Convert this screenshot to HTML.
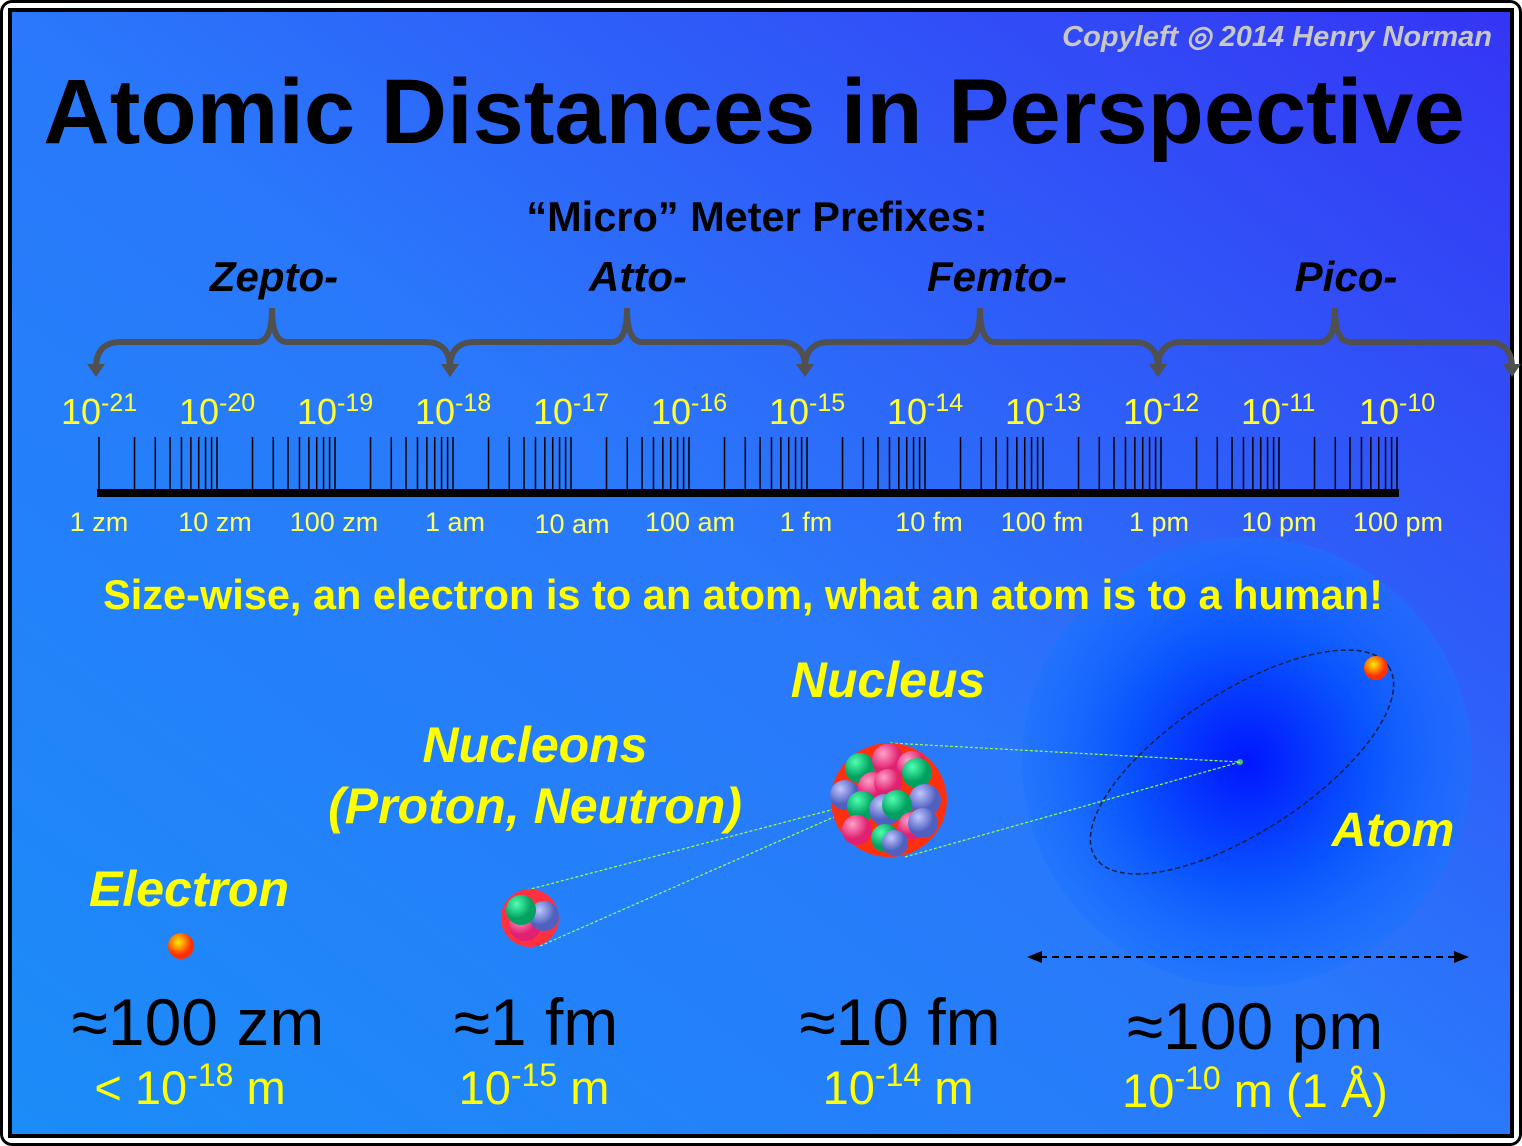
<!DOCTYPE html>
<html><head><meta charset="utf-8"><style>
html,body{margin:0;padding:0;width:1522px;height:1146px;overflow:hidden;background:#fff}
svg{display:block}
text{font-family:"Liberation Sans",sans-serif}
</style></head><body>
<svg width="1522" height="1146" viewBox="0 0 1522 1146" xmlns="http://www.w3.org/2000/svg">
<defs>
<linearGradient id="bg" x1="0" y1="1" x2="1" y2="0">
<stop offset="0" stop-color="#1b8cf8"/><stop offset="0.5" stop-color="#2a78fb"/><stop offset="1" stop-color="#3535f5"/>
</linearGradient>
<radialGradient id="atom"><stop offset="0" stop-color="#0016ff"/><stop offset="0.55" stop-color="#0a55ff"/><stop offset="1" stop-color="#1a72ff" stop-opacity="0.5"/></radialGradient>
<radialGradient id="el" cx="0.4" cy="0.35"><stop offset="0" stop-color="#ffee00"/><stop offset="1" stop-color="#ff3000"/></radialGradient>
<radialGradient id="gr" cx="0.35" cy="0.3"><stop offset="0" stop-color="#50ffb0"/><stop offset="1" stop-color="#00a060"/></radialGradient>
<radialGradient id="pk" cx="0.35" cy="0.3"><stop offset="0" stop-color="#ffa0c8"/><stop offset="1" stop-color="#e02070"/></radialGradient>
<radialGradient id="bl" cx="0.35" cy="0.3"><stop offset="0" stop-color="#c0c8ff"/><stop offset="1" stop-color="#5060c0"/></radialGradient>
</defs>
<rect x="0" y="0" width="1522" height="1146" rx="12" fill="#000"/>
<rect x="3" y="3" width="1516" height="1140" rx="9" fill="#fff"/>
<rect x="8" y="8" width="1506" height="1130" fill="#000"/>
<rect x="12" y="12" width="1498" height="1122" fill="url(#bg)"/>

<text x="1492" y="46" text-anchor="end" font-size="29" font-weight="bold" font-style="italic" fill="#c8c8c8">Copyleft ◎ 2014 Henry Norman</text>
<text x="754" y="143" text-anchor="middle" font-size="92" font-weight="bold" fill="#000">Atomic Distances in Perspective</text>
<text x="757" y="231" text-anchor="middle" font-size="41.5" font-weight="bold" fill="#000">“Micro” Meter Prefixes:</text>
<g font-size="42" font-weight="bold" font-style="italic" fill="#000" text-anchor="middle">
<text x="274" y="291">Zepto-</text><text x="638" y="291">Atto-</text><text x="997" y="291">Femto-</text><text x="1346" y="291">Pico-</text>
</g>
<g fill="none" stroke="#505050" stroke-width="6" id="braces"></g>
<g id="ticks" stroke="#000" stroke-width="1.5"></g>
<rect x="97" y="489" width="1302" height="8" fill="#000"/>
<g font-size="36" fill="#ffff33" id="dec"></g>
<g font-size="27" fill="#ffff66" text-anchor="middle">
<text x="99" y="531">1 zm</text><text x="215" y="531">10 zm</text><text x="334" y="531">100 zm</text><text x="455" y="531">1 am</text><text x="572" y="533">10 am</text><text x="690" y="531">100 am</text><text x="806" y="531">1 fm</text><text x="929" y="531">10 fm</text><text x="1042" y="531">100 fm</text><text x="1159" y="531">1 pm</text><text x="1279" y="531">10 pm</text><text x="1398" y="531">100 pm</text>
</g>

<circle cx="1247" cy="762" r="225" fill="url(#atom)"/>
<text x="743" y="609" text-anchor="middle" font-size="41.5" font-weight="bold" fill="#ffff00">Size-wise, an electron is to an atom, what an atom is to a human!</text>
<ellipse cx="1242" cy="762" rx="175" ry="70" transform="rotate(-33 1242 762)" fill="none" stroke="#102040" stroke-width="1.5" stroke-dasharray="5 3"/>
<circle cx="1376" cy="668" r="12" fill="url(#el)"/>
<circle cx="1240" cy="762" r="3" fill="#40c080"/>
<g stroke="#a0ff40" stroke-width="1.2" stroke-dasharray="3 2" fill="none">
<line x1="890" y1="743" x2="1240" y2="762"/><line x1="905" y1="857" x2="1240" y2="762"/>
<line x1="527" y1="890" x2="850" y2="805"/><line x1="540" y1="946" x2="850" y2="810"/>
</g>
<ellipse cx="889" cy="800" rx="58" ry="57" fill="#ff3010"/>
<g>
<circle cx="860" cy="768" r="15" fill="url(#gr)"/><circle cx="888" cy="760" r="16" fill="url(#pk)"/><circle cx="912" cy="766" r="15" fill="url(#pk)"/>
<circle cx="845" cy="795" r="15" fill="url(#bl)"/><circle cx="873" cy="787" r="15" fill="url(#pk)"/><circle cx="917" cy="773" r="15" fill="url(#gr)"/>
<circle cx="925" cy="800" r="16" fill="url(#bl)"/><circle cx="862" cy="806" r="15" fill="url(#gr)"/><circle cx="888" cy="783" r="14" fill="url(#pk)"/>
<circle cx="885" cy="810" r="16" fill="url(#bl)"/><circle cx="897" cy="805" r="15" fill="url(#gr)"/><circle cx="857" cy="830" r="15" fill="url(#pk)"/>
<circle cx="912" cy="826" r="14" fill="url(#pk)"/><circle cx="923" cy="823" r="15" fill="url(#bl)"/><circle cx="885" cy="838" r="14" fill="url(#gr)"/><circle cx="895" cy="843" r="13" fill="url(#bl)"/>
</g>
<circle cx="530" cy="918" r="29" fill="#ff3040"/>
<circle cx="525" cy="925" r="16" fill="url(#pk)"/><circle cx="544" cy="916" r="15" fill="url(#bl)"/><circle cx="521" cy="910" r="15" fill="url(#gr)"/>
<circle cx="181" cy="946" r="13" fill="url(#el)"/>

<g font-size="50" font-weight="bold" font-style="italic" fill="#ffff00" text-anchor="middle">
<text x="888" y="697">Nucleus</text><text x="535" y="762">Nucleons</text><text x="535" y="823">(Proton, Neutron)</text>
<text x="189" y="906">Electron</text><text x="1393" y="846" font-size="48">Atom</text>
</g>
<line x1="1040" y1="957" x2="1455" y2="957" stroke="#000" stroke-width="2" stroke-dasharray="7 5"/>
<polygon points="1027,957 1042,951 1042,963" fill="#000"/><polygon points="1469,957 1454,951 1454,963" fill="#000"/>

<g font-size="66" fill="#000" text-anchor="middle">
<text x="198" y="1045">≈100 zm</text><text x="536" y="1045">≈1 fm</text><text x="900" y="1045">≈10 fm</text><text x="1255" y="1049">≈100 pm</text>
</g>
<g font-size="47" fill="#ffff00" text-anchor="middle">
<text x="190" y="1104">&lt; 10<tspan font-size="32" dy="-18">-18</tspan><tspan dy="18"> m</tspan></text>
<text x="534" y="1104">10<tspan font-size="32" dy="-18">-15</tspan><tspan dy="18"> m</tspan></text>
<text x="898" y="1104">10<tspan font-size="32" dy="-18">-14</tspan><tspan dy="18"> m</tspan></text>
<text x="1255" y="1107">10<tspan font-size="32" dy="-18">-10</tspan><tspan dy="18"> m (1 Å)</tspan></text>
</g>
</svg>
<script>
var ns="http://www.w3.org/2000/svg";
var t=document.getElementById("ticks"),d=document.getElementById("dec"),b=document.getElementById("braces");
var x0=99,w=118;
for(var k=0;k<11;k++){for(var m=1;m<10;m++){var x=x0+w*(k+Math.log10(m));var l=document.createElementNS(ns,"line");l.setAttribute("x1",x);l.setAttribute("x2",x);l.setAttribute("y1",437);l.setAttribute("y2",490);t.appendChild(l);}}
var l=document.createElementNS(ns,"line");l.setAttribute("x1",1397);l.setAttribute("x2",1397);l.setAttribute("y1",437);l.setAttribute("y2",490);t.appendChild(l);
for(var k=0;k<12;k++){var tx=document.createElementNS(ns,"text");tx.setAttribute("x",x0+w*k-38);tx.setAttribute("y",424);tx.innerHTML='10<tspan font-size="25" dy="-13">-'+(21-k)+'</tspan>';d.appendChild(tx);}
var cs=[[96,272,450],[450,627,805],[805,980,1158],[1158,1335,1512]];
cs.forEach(function(c){var p=document.createElementNS(ns,"path");var a=c[0],m=c[1],e=c[2];
p.setAttribute("d","M"+a+",368 Q"+a+",342 "+(a+25)+",342 L"+(m-15)+",342 Q"+m+",342 "+m+",308 Q"+m+",342 "+(m+15)+",342 L"+(e-25)+",342 Q"+e+",342 "+e+",368");b.appendChild(p);
[a,e].forEach(function(x){var g=document.createElementNS(ns,"polygon");g.setAttribute("points",(x-9)+",364 "+(x+9)+",364 "+x+",377");g.setAttribute("fill","#505050");g.setAttribute("stroke","none");b.appendChild(g);});});
</script>
</body></html>
